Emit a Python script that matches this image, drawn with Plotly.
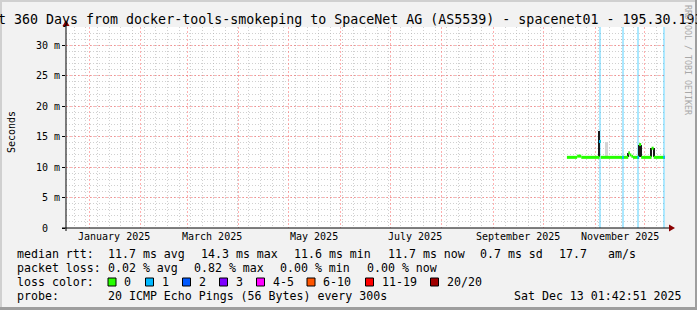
import plotly.graph_objects as go
from datetime import datetime, timedelta

# ---------------- data ----------------
START = "2024-12-18 01:42:51"
END = "2025-12-13 01:42:51"
Y_MAX = 33

month_labels = ["January 2025", "March 2025", "May 2025", "July 2025", "September 2025", "November 2025"]
month_label_dates = ["2025-01-16", "2025-03-16", "2025-05-16", "2025-07-16", "2025-09-16", "2025-11-16"]

y_tick_vals = [0, 5, 10, 15, 20, 25, 30]
y_tick_text = ["0\u00a0\u00a0", "5 m", "10 m", "15 m", "20 m", "25 m", "30 m"]

# median rtt as steps (start, end, value in ms)
median_start = ["2025-10-15 03:00", "2025-10-21 06:00", "2025-10-23 18:00", "2025-11-03 18:00",
                "2025-11-04 10:00", "2025-11-21 00:00", "2025-11-22 00:00", "2025-11-22 20:00",
                "2025-11-23 20:00", "2025-11-27 12:00", "2025-11-28 18:00", "2025-12-05 00:00",
                "2025-12-06 06:00"]
median_end = ["2025-10-21 06:00", "2025-10-23 18:00", "2025-11-03 18:00", "2025-11-04 10:00",
              "2025-11-21 00:00", "2025-11-22 00:00", "2025-11-22 20:00", "2025-11-23 20:00",
              "2025-11-27 12:00", "2025-11-28 18:00", "2025-12-05 00:00", "2025-12-06 06:00",
              "2025-12-13 01:42"]
median_ms = [11.6, 11.8, 11.6, 14.2, 11.6, 12.3, 12.0, 11.8, 11.6, 13.7, 11.6, 13.1, 11.6]

loss_time = ["2025-11-03 22:00", "2025-11-17 18:00", "2025-11-27 00:00", "2025-12-12 12:00"]
loss_median = [14.2, 11.6, 11.6, 11.6]

smoke_dark_time = ["2025-11-03 18:00", "2025-11-21 00:00", "2025-11-27 12:00", "2025-11-28 18:00",
                   "2025-12-05 00:00", "2025-12-06 06:00"]
smoke_dark_lo = [11.6, 11.6, 11.6, 11.6, 11.6, 11.6]
smoke_dark_hi = [15.9, 12.3, 13.7, 13.7, 13.1, 13.1]

smoke_light_time = ["2025-11-08 00:00", "2025-11-21 12:00"]
smoke_light_lo = [11.6, 11.6]
smoke_light_hi = [14.1, 12.6]

legend_rtt = [("median rtt:", 16), ("11.7 ms avg", 107), ("14.3 ms max", 200), ("11.6 ms min", 293),
              ("11.7 ms now", 386.5), ("0.7 ms sd", 479), ("17.7", 558), ("am/s", 607)]
legend_loss = [("packet loss:", 16), ("0.02 % avg", 107), ("0.82 % max", 193), ("0.00 % min", 279),
               ("0.00 % now", 365.5)]
loss_color_labels = ["0", "1", "2", "3", "4-5", "6-10", "11-19", "20/20"]
loss_color_values = ["#26ff00", "#00b8ff", "#0059ff", "#7e00ff", "#ff00ff", "#ff5500", "#ff0000", "#a10000"]
loss_color_x = [108, 145.5, 182.5, 219.5, 256.5, 307, 365.5, 430.5]
probe_text = "20 ICMP Echo Pings (56 Bytes) every 300s"
stamp_text = "Sat Dec 13 01:42:51 2025"
title_text = "Last 360 Days from docker-tools-smokeping to SpaceNet AG (AS5539) - spacenet01 - 195.30.193.10"

# ---------------- layout geometry ----------------
W, H = 697, 310
L, R, T, B = 66, 665, 27, 228
MONO = "DejaVu Sans Mono"
DAY_MS = 86400000


def px(x):
    return (x - L) / (R - L)


def py(y):
    return (B - y) / (B - T)


def t(s):
    return datetime.fromisoformat(s)


fig = go.Figure()

# loss background bars
fig.add_trace(go.Bar(x=loss_time, y=[Y_MAX] * len(loss_time), width=1.1 * DAY_MS,
                     marker=dict(color="rgba(0,184,255,0.33)", line=dict(width=0)),
                     hoverinfo="skip", showlegend=False))
# light smoke
fig.add_trace(go.Bar(x=smoke_light_time, y=[h - l for h, l in zip(smoke_light_hi, smoke_light_lo)],
                     base=smoke_light_lo, width=1.1 * DAY_MS,
                     marker=dict(color="#d4d4d4", line=dict(width=0)), showlegend=False))
# median line (horizontal steps only)
mx, my = [], []
for s, e, v in zip(median_start, median_end, median_ms):
    mx += [s, e, None]
    my += [v, v, None]
fig.add_trace(go.Scatter(x=mx, y=my, mode="lines", line=dict(color="#26ff00", width=3), showlegend=False))
# dark smoke
fig.add_trace(go.Bar(x=smoke_dark_time, y=[h - l for h, l in zip(smoke_dark_hi, smoke_dark_lo)],
                     base=smoke_dark_lo, width=0.75 * DAY_MS,
                     marker=dict(color="#1a1a1a", line=dict(width=0)), showlegend=False))
# loss-coloured median segments
seg_x, seg_y = [], []
for tm, v in zip(loss_time, loss_median):
    c = t(tm)
    seg_x += [c - timedelta(hours=13), c + timedelta(hours=13), None]
    seg_y += [v, v, None]
fig.add_trace(go.Scatter(x=seg_x, y=seg_y, mode="lines", line=dict(color="#00b8ff", width=3), showlegend=False))

fig.update_layout(
    width=W, height=H, margin=dict(l=L, r=W - R, t=T, b=H - B),
    paper_bgcolor="#f2f2f2", plot_bgcolor="#ffffff", barmode="overlay", bargap=0,
    font=dict(family=MONO, color="#000000"),
    xaxis=dict(type="date", range=[START, END], showline=False, zeroline=False,
               showticklabels=False, ticks="",
               dtick="M1", tick0="2025-01-01", showgrid=True, gridcolor="rgba(255,80,80,0.45)",
               gridwidth=1, griddash="2px,2px",
               minor=dict(dtick=7 * DAY_MS, tick0="2024-12-23", showgrid=True,
                          gridcolor="rgba(170,170,170,0.55)", gridwidth=1, griddash="1px,2px")),
    yaxis=dict(range=[0, Y_MAX], showline=False, zeroline=False, tickmode="array",
               tickvals=y_tick_vals, ticktext=y_tick_text, ticks="outside", ticklen=3, tickcolor="#000",
               tickfont=dict(family=MONO, size=10, color="#000"),
               showgrid=True, gridcolor="rgba(255,80,80,0.45)", griddash="2px,2px",
               minor=dict(dtick=1, showgrid=True, gridcolor="rgba(170,170,170,0.55)", griddash="1px,2px")),
)

shapes = []
# axis lines
shapes.append(dict(type="line", xref="paper", yref="paper", x0=px(62), x1=px(670), y0=py(228), y1=py(228),
                   line=dict(color="#000", width=1)))
shapes.append(dict(type="line", xref="paper", yref="paper", x0=px(66), x1=px(66), y0=py(231), y1=py(24),
                   line=dict(color="#000", width=1)))
# arrows
shapes.append(dict(type="path", xref="paper", yref="paper",
                   path=f"M {px(669)} {py(224.5)} L {px(675)} {py(228)} L {px(669)} {py(231.5)} Z",
                   fillcolor="#8b0000", line=dict(width=0)))
shapes.append(dict(type="path", xref="paper", yref="paper",
                   path=f"M {px(62.5)} {py(26)} L {px(66)} {py(20)} L {px(69.5)} {py(26)} Z",
                   fillcolor="#8b0000", line=dict(width=0)))
# frame shading
shapes.append(dict(type="rect", xref="paper", yref="paper", x0=px(0), x1=px(2), y0=py(H), y1=py(0),
                   fillcolor="#d0d0d0", line=dict(width=0)))
shapes.append(dict(type="rect", xref="paper", yref="paper", x0=px(0), x1=px(W), y0=py(2), y1=py(0),
                   fillcolor="#d0d0d0", line=dict(width=0)))
shapes.append(dict(type="rect", xref="paper", yref="paper", x0=px(W - 2), x1=px(W), y0=py(H), y1=py(0),
                   fillcolor="#9e9e9e", line=dict(width=0)))
shapes.append(dict(type="rect", xref="paper", yref="paper", x0=px(0), x1=px(W), y0=py(H), y1=py(H - 3),
                   fillcolor="#9e9e9e", line=dict(width=0)))
# loss colour boxes
for cx, col in zip(loss_color_x, loss_color_values):
    shapes.append(dict(type="rect", xref="paper", yref="paper", x0=px(cx), x1=px(cx + 8), y0=py(286), y1=py(278),
                       fillcolor=col, line=dict(color="#000", width=1)))
fig.update_layout(shapes=shapes)

ann = []


def text(s, x, y, size=11.6, anchor="left", **kw):
    ann.append(dict(text=s, x=px(x), y=py(y), xref="paper", yref="paper", xanchor=anchor, yanchor="middle",
                    showarrow=False, borderpad=0, font=dict(family=MONO, size=size, color=kw.pop("color", "#000")),
                    **kw))


text(title_text, -27.3, 19.5, size=13.3)
for lab, d in zip(month_labels, month_label_dates):
    ann.append(dict(text=lab, x=d, y=py(237), xref="x", yref="paper", xanchor="center", yanchor="middle",
                    showarrow=False, borderpad=0, font=dict(family=MONO, size=10, color="#000")))
text("Seconds", 11, 132, size=10, anchor="center", textangle=-90)
text("RRDTOOL / TOBI OETIKER", 688, 60, size=8.3, anchor="center", textangle=90, color="#a8a8a8")
for s, x in legend_rtt:
    text(s, x, 254)
for s, x in legend_loss:
    text(s, x, 268)
text("loss color:", 16, 282)
for lab, x in zip(loss_color_labels, loss_color_x):
    text(lab, x + 15, 282)
text("probe:", 16, 296)
text(probe_text, 107, 296)
text(stamp_text, 513, 296)
fig.update_layout(annotations=ann)

fig.write_html("out.html")
